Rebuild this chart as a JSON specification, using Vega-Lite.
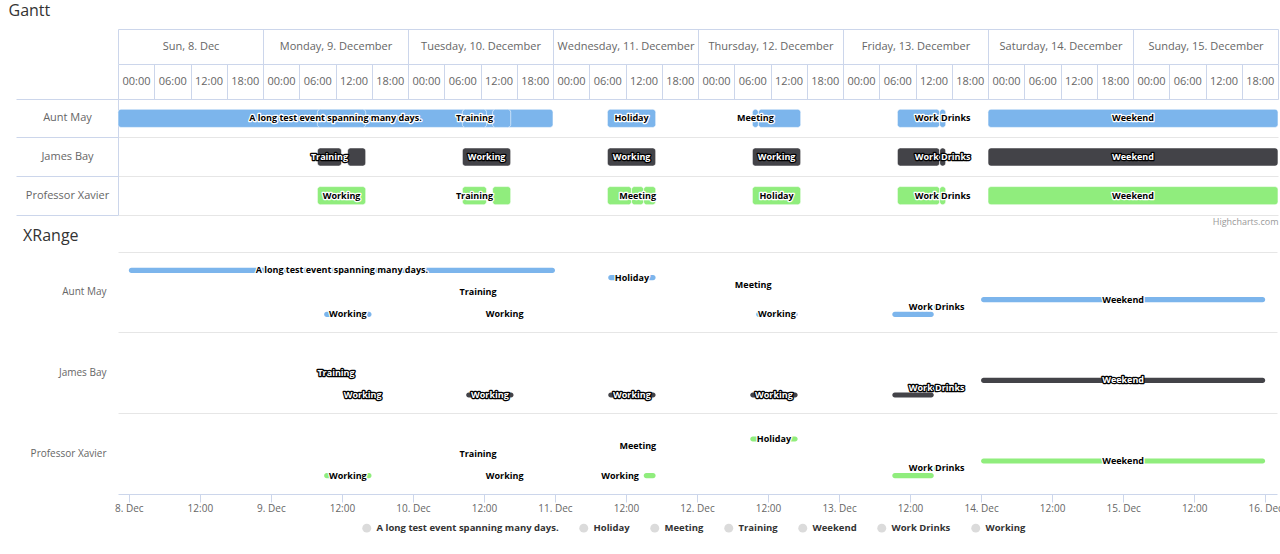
{
  "$schema": "https://vega.github.io/schema/vega-lite/v6.json",
  "padding": {"left": 8, "top": 2, "right": 3, "bottom": 0},
  "spacing": 2,
  "columns": 1,
  "align": "none",
  "title": {"text": "Highcharts.com", "orient": "bottom", "anchor": "end", "fontSize": 9, "fontWeight": "normal", "color": "#999", "offset": 2},
  "config": {
    "font": "Open Sans",
    "view": {"stroke": null},
    "title": {"fontSize": 16, "fontWeight": "normal", "color": "#333", "anchor": "start"},
    "legend": {"layout": {"bottom": {"anchor": "middle"}}}
  },
  "data": {
    "values": [
      {"id": 1, "person": "Aunt May", "name": "A long test event spanning many days.", "start": "2019-12-08T00:00:00", "end": "2019-12-11T00:00:00"},
      {"id": 2, "person": "Aunt May", "name": "Working", "start": "2019-12-09T09:00:00", "end": "2019-12-09T17:00:00"},
      {"id": 3, "person": "Aunt May", "name": "Training", "start": "2019-12-10T09:00:00", "end": "2019-12-10T13:00:00"},
      {"id": 4, "person": "Aunt May", "name": "Working", "start": "2019-12-10T14:00:00", "end": "2019-12-10T17:00:00"},
      {"id": 5, "person": "Aunt May", "name": "Holiday", "start": "2019-12-11T09:00:00", "end": "2019-12-11T17:00:00"},
      {"id": 6, "person": "Aunt May", "name": "Meeting", "start": "2019-12-12T09:00:00", "end": "2019-12-12T10:00:00"},
      {"id": 7, "person": "Aunt May", "name": "Working", "start": "2019-12-12T10:00:00", "end": "2019-12-12T17:00:00"},
      {"id": 8, "person": "Aunt May", "name": "Working", "start": "2019-12-13T09:00:00", "end": "2019-12-13T16:00:00"},
      {"id": 9, "person": "Aunt May", "name": "Work Drinks", "start": "2019-12-13T16:00:00", "end": "2019-12-13T17:00:00"},
      {"id": 10, "person": "Aunt May", "name": "Weekend", "start": "2019-12-14T00:00:00", "end": "2019-12-16T00:00:00"},
      {"id": 11, "person": "James Bay", "name": "Training", "start": "2019-12-09T09:00:00", "end": "2019-12-09T13:00:00"},
      {"id": 12, "person": "James Bay", "name": "Working", "start": "2019-12-09T14:00:00", "end": "2019-12-09T17:00:00"},
      {"id": 13, "person": "James Bay", "name": "Working", "start": "2019-12-10T09:00:00", "end": "2019-12-10T17:00:00"},
      {"id": 14, "person": "James Bay", "name": "Working", "start": "2019-12-11T09:00:00", "end": "2019-12-11T17:00:00"},
      {"id": 15, "person": "James Bay", "name": "Working", "start": "2019-12-12T09:00:00", "end": "2019-12-12T17:00:00"},
      {"id": 16, "person": "James Bay", "name": "Working", "start": "2019-12-13T09:00:00", "end": "2019-12-13T16:00:00"},
      {"id": 17, "person": "James Bay", "name": "Work Drinks", "start": "2019-12-13T16:00:00", "end": "2019-12-13T17:00:00"},
      {"id": 18, "person": "James Bay", "name": "Weekend", "start": "2019-12-14T00:00:00", "end": "2019-12-16T00:00:00"},
      {"id": 19, "person": "Professor Xavier", "name": "Working", "start": "2019-12-09T09:00:00", "end": "2019-12-09T17:00:00"},
      {"id": 20, "person": "Professor Xavier", "name": "Training", "start": "2019-12-10T09:00:00", "end": "2019-12-10T13:00:00"},
      {"id": 21, "person": "Professor Xavier", "name": "Working", "start": "2019-12-10T14:00:00", "end": "2019-12-10T17:00:00"},
      {"id": 22, "person": "Professor Xavier", "name": "Working", "start": "2019-12-11T09:00:00", "end": "2019-12-11T13:00:00"},
      {"id": 23, "person": "Professor Xavier", "name": "Meeting", "start": "2019-12-11T13:00:00", "end": "2019-12-11T15:00:00"},
      {"id": 24, "person": "Professor Xavier", "name": "Working", "start": "2019-12-11T15:00:00", "end": "2019-12-11T17:00:00"},
      {"id": 25, "person": "Professor Xavier", "name": "Holiday", "start": "2019-12-12T09:00:00", "end": "2019-12-12T17:00:00"},
      {"id": 26, "person": "Professor Xavier", "name": "Working", "start": "2019-12-13T09:00:00", "end": "2019-12-13T16:00:00"},
      {"id": 27, "person": "Professor Xavier", "name": "Work Drinks", "start": "2019-12-13T16:00:00", "end": "2019-12-13T17:00:00"},
      {"id": 28, "person": "Professor Xavier", "name": "Weekend", "start": "2019-12-14T00:00:00", "end": "2019-12-16T00:00:00"}
    ]
  },
  "concat": [
    {
      "title": {"text": "Gantt", "offset": 10, "dx": -7},
      "width": 1160,
      "height": 116,
      "resolve": {"axis": {"x": "independent", "y": "independent"}},
      "layer": [
        {
          "mark": {"type": "bar", "height": {"band": 0.47}, "cornerRadius": 3, "stroke": "#fff", "strokeWidth": 1, "strokeOpacity": 0.6},
          "encoding": {
            "x": {
              "field": "start", "type": "temporal",
              "scale": {"domain": ["2019-12-08T00:00:00", "2019-12-16T00:00:00"], "nice": false},
              "axis": {
                "orient": "top", "offset": 0, "title": null, "grid": false,
                "values": [
                  "2019-12-08T00:00:00", "2019-12-08T06:00:00", "2019-12-08T12:00:00", "2019-12-08T18:00:00",
                  "2019-12-09T00:00:00", "2019-12-09T06:00:00", "2019-12-09T12:00:00", "2019-12-09T18:00:00",
                  "2019-12-10T00:00:00", "2019-12-10T06:00:00", "2019-12-10T12:00:00", "2019-12-10T18:00:00",
                  "2019-12-11T00:00:00", "2019-12-11T06:00:00", "2019-12-11T12:00:00", "2019-12-11T18:00:00",
                  "2019-12-12T00:00:00", "2019-12-12T06:00:00", "2019-12-12T12:00:00", "2019-12-12T18:00:00",
                  "2019-12-13T00:00:00", "2019-12-13T06:00:00", "2019-12-13T12:00:00", "2019-12-13T18:00:00",
                  "2019-12-14T00:00:00", "2019-12-14T06:00:00", "2019-12-14T12:00:00", "2019-12-14T18:00:00",
                  "2019-12-15T00:00:00", "2019-12-15T06:00:00", "2019-12-15T12:00:00", "2019-12-15T18:00:00",
                  "2019-12-16T00:00:00"
                ],
                "tickSize": 35, "tickColor": "#ccd6eb", "domainColor": "#ccd6eb",
                "labelExpr": "date(datum.value) == 16 ? '' : timeFormat(datum.value, '%H:%M')",
                "labelOffset": 18, "labelPadding": -17, "labelBaseline": "middle", "labelAlign": "center",
                "labelFontSize": 11, "labelColor": "#666", "labelOverlap": false, "labelFlush": false, "labelBound": false
              }
            },
            "x2": {"field": "end"},
            "y": {
              "field": "person", "type": "nominal",
              "scale": {"paddingInner": 0, "paddingOuter": 0},
              "axis": {
                "title": null, "bandPosition": 1, "tickExtra": true, "tickSize": 102,
                "tickColor": "#ccd6eb", "domainColor": "#ccd6eb", "grid": true, "gridColor": "#e6e6e6",
                "labelAlign": "center", "labelBaseline": "middle", "labelPadding": -51,
                "labelFontSize": 11, "labelColor": "#666"
              }
            },
            "color": {
              "field": "person", "type": "nominal",
              "scale": {"domain": ["Aunt May", "James Bay", "Professor Xavier"], "range": ["#7cb5ec", "#434348", "#90ed7d"]},
              "legend": null
            }
          }
        },
        {
          "transform": [
            {"filter": {"field": "id", "oneOf": [1, 3, 5, 6, 9, 10, 11, 13, 14, 15, 17, 18, 19, 20, 23, 25, 27, 28]}},
            {"fold": ["start", "end"], "as": ["edge", "t"]}
          ],
          "mark": {"type": "text", "fontSize": 9, "fontWeight": "bold", "strokeWidth": 2.5, "strokeJoin": "round"},
          "encoding": {
            "x": {"field": "t", "type": "temporal", "aggregate": "mean", "axis": null},
            "y": {"field": "person", "type": "nominal", "axis": null},
            "detail": {"field": "id", "type": "nominal"},
            "text": {"field": "name", "type": "nominal"},
            "fill": {"condition": {"test": "datum.person === 'James Bay'", "value": "#000000"}, "value": "#ffffff"},
            "stroke": {"condition": {"test": "datum.person === 'James Bay'", "value": "#000000"}, "value": "#ffffff"}
          }
        },
        {
          "transform": [
            {"filter": {"field": "id", "oneOf": [1, 3, 5, 6, 9, 10, 11, 13, 14, 15, 17, 18, 19, 20, 23, 25, 27, 28]}},
            {"fold": ["start", "end"], "as": ["edge", "t"]}
          ],
          "mark": {"type": "text", "fontSize": 9, "fontWeight": "bold"},
          "encoding": {
            "x": {
              "field": "t", "type": "temporal", "aggregate": "mean",
              "axis": {
                "orient": "top", "offset": 35, "title": null, "grid": false,
                "values": [
                  "2019-12-08T00:00:00", "2019-12-09T00:00:00", "2019-12-10T00:00:00", "2019-12-11T00:00:00",
                  "2019-12-12T00:00:00", "2019-12-13T00:00:00", "2019-12-14T00:00:00", "2019-12-15T00:00:00",
                  "2019-12-16T00:00:00"
                ],
                "tickSize": 35, "tickColor": "#ccd6eb", "domainColor": "#ccd6eb",
                "labelExpr": "date(datum.value) == 16 ? '' : (date(datum.value) == 8 ? timeFormat(datum.value, '%a, %-d. %b') : timeFormat(datum.value, '%A, %-d. %B'))",
                "labelOffset": 72.5, "labelPadding": -17, "labelBaseline": "middle", "labelAlign": "center",
                "labelFontSize": 11, "labelColor": "#666", "labelOverlap": false, "labelFlush": false, "labelBound": false
              }
            },
            "y": {"field": "person", "type": "nominal", "axis": null},
            "detail": {"field": "id", "type": "nominal"},
            "text": {"field": "name", "type": "nominal"},
            "color": {"condition": {"test": "datum.person === 'James Bay'", "value": "#ffffff"}, "value": "#000000"}
          }
        },
        {
          "mark": {"type": "bar", "opacity": 0},
          "encoding": {
            "x": {
              "field": "start", "type": "temporal",
              "axis": {"orient": "top", "offset": 70, "title": null, "ticks": false, "labels": false, "grid": false, "domainColor": "#ccd6eb"}
            },
            "x2": {"field": "end"},
            "y": {
              "field": "person", "type": "nominal",
              "axis": {"offset": 102, "title": null, "ticks": false, "labels": false, "grid": false, "domainColor": "#ccd6eb"}
            }
          }
        },
        {
          "mark": {"type": "bar", "opacity": 0},
          "encoding": {
            "x": {
              "field": "start", "type": "temporal",
              "axis": {
                "orient": "bottom", "title": "Highcharts.com", "titleAnchor": "end", "titleFontSize": 9,
                "titleColor": "#999", "titleFontWeight": "normal", "titlePadding": 2,
                "ticks": false, "labels": false, "domain": false, "grid": false
              }
            },
            "x2": {"field": "end"},
            "y": {"field": "person", "type": "nominal", "axis": null}
          }
        }
      ]
    },
    {
      "title": {"text": "XRange", "offset": 8, "dx": -7},
      "width": 1159,
      "height": 242,
      "resolve": {"axis": {"x": "independent", "y": "independent"}},
      "layer": [
        {
          "mark": {"type": "bar", "cornerRadius": 2.5},
          "encoding": {
            "x": {
              "field": "start", "type": "temporal",
              "scale": {"domain": ["2019-12-07T22:10:00", "2019-12-16T02:00:00"], "nice": false},
              "axis": {
                "orient": "bottom", "title": null,
                "values": [
                  "2019-12-08T00:00:00", "2019-12-08T12:00:00", "2019-12-09T00:00:00", "2019-12-09T12:00:00",
                  "2019-12-10T00:00:00", "2019-12-10T12:00:00", "2019-12-11T00:00:00", "2019-12-11T12:00:00",
                  "2019-12-12T00:00:00", "2019-12-12T12:00:00", "2019-12-13T00:00:00", "2019-12-13T12:00:00",
                  "2019-12-14T00:00:00", "2019-12-14T12:00:00", "2019-12-15T00:00:00", "2019-12-15T12:00:00",
                  "2019-12-16T00:00:00"
                ],
                "labelExpr": "hours(datum.value) == 0 ? timeFormat(datum.value, '%-d. %b') : timeFormat(datum.value, '%H:%M')",
                "labelFontSize": 10, "labelColor": "#666", "labelPadding": 1,
                "tickColor": "#ccd6eb", "tickSize": 8, "domainColor": "#ccd6eb", "grid": false,
                "labelFlush": false, "labelOverlap": false
              }
            },
            "x2": {"field": "end"},
            "y": {
              "field": "person", "type": "nominal",
              "scale": {"paddingInner": 0, "paddingOuter": 0},
              "axis": {
                "title": null, "ticks": false, "domain": false, "grid": true, "gridColor": "#e6e6e6",
                "bandPosition": 0, "labelFontSize": 10, "labelColor": "#666", "labelPadding": 12,
                "minExtent": 77, "maxExtent": 77
              }
            },
            "yOffset": {
              "field": "name", "type": "nominal",
              "scale": {
                "domain": ["pad1", "pad2", "A long test event spanning many days.", "Holiday", "Meeting", "Training", "Weekend", "Work Drinks", "Working", "pad3", "pad4"],
                "paddingInner": 0.3, "paddingOuter": 0.15
              }
            },
            "color": {"field": "person", "type": "nominal", "legend": null}
          }
        },
        {
          "transform": [
            {"filter": {"not": {"field": "id", "oneOf": [8, 16, 24, 26]}}},
            {"fold": ["start", "end"], "as": ["edge", "t"]}
          ],
          "mark": {"type": "text", "fontSize": 9, "fontWeight": "bold", "strokeWidth": 2.5, "strokeJoin": "round"},
          "encoding": {
            "x": {"field": "t", "type": "temporal", "aggregate": "mean", "axis": null},
            "y": {"field": "person", "type": "nominal", "axis": null},
            "yOffset": {"field": "name", "type": "nominal"},
            "detail": {"field": "id", "type": "nominal"},
            "text": {"field": "name", "type": "nominal"},
            "fill": {"condition": {"test": "datum.person === 'James Bay'", "value": "#000000"}, "value": "#ffffff"},
            "stroke": {"condition": {"test": "datum.person === 'James Bay'", "value": "#000000"}, "value": "#ffffff"}
          }
        },
        {
          "transform": [
            {"filter": {"not": {"field": "id", "oneOf": [8, 16, 24, 26]}}},
            {"fold": ["start", "end"], "as": ["edge", "t"]}
          ],
          "mark": {"type": "text", "fontSize": 9, "fontWeight": "bold"},
          "encoding": {
            "x": {"field": "t", "type": "temporal", "aggregate": "mean", "axis": null},
            "y": {"field": "person", "type": "nominal", "axis": null},
            "yOffset": {"field": "name", "type": "nominal"},
            "detail": {"field": "id", "type": "nominal"},
            "text": {"field": "name", "type": "nominal"},
            "color": {"condition": {"test": "datum.person === 'James Bay'", "value": "#ffffff"}, "value": "#000000"}
          }
        },
        {
          "mark": {"type": "point", "filled": true, "size": 0, "color": "#cccccc"},
          "encoding": {
            "x": {"field": "start", "type": "temporal", "axis": null},
            "y": {"field": "person", "type": "nominal", "axis": null},
            "shape": {
              "field": "name", "type": "nominal",
              "scale": {
                "domain": ["A long test event spanning many days.", "Holiday", "Meeting", "Training", "Weekend", "Work Drinks", "Working"],
                "range": ["circle", "circle", "circle", "circle", "circle", "circle", "circle"]
              },
              "legend": {
                "orient": "bottom", "offset": 10, "direction": "horizontal", "title": null,
                "labelFontSize": 9.5, "labelFontWeight": "bold", "labelColor": "#333", "labelOffset": 5, "labelLimit": 400,
                "symbolSize": 80, "symbolStrokeWidth": 0, "symbolFillColor": "#cccccc", "columnPadding": 20, "padding": 0
              }
            }
          }
        }
      ]
    }
  ]
}
